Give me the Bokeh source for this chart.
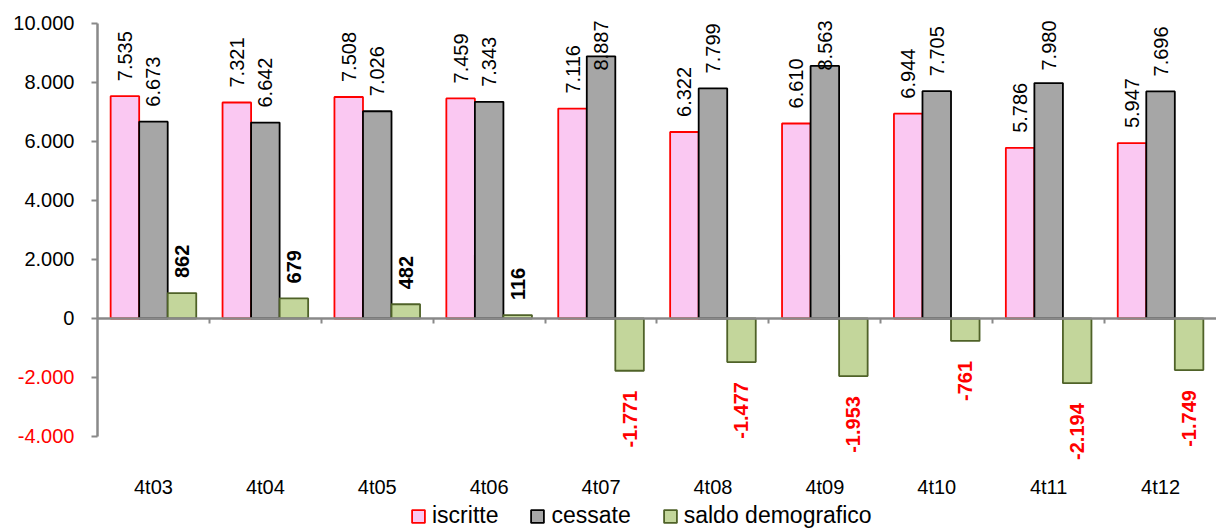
import numpy as np
from bokeh.plotting import figure
from bokeh.models import (ColumnDataSource, FixedTicker, LinearAxis,
                          Legend, LegendItem, Range1d)
from bokeh.transform import dodge
from bokeh.core.properties import value
from bokeh.embed import file_html
from bokeh.resources import INLINE

# ---------------- data ----------------
categories = ["4t03", "4t04", "4t05", "4t06", "4t07", "4t08", "4t09", "4t10", "4t11", "4t12"]
iscritte = [7535, 7321, 7508, 7459, 7116, 6322, 6610, 6944, 5786, 5947]
cessate = [6673, 6642, 7026, 7343, 8887, 7799, 8563, 7705, 7980, 7696]
saldo = [862, 679, 482, 116, -1771, -1477, -1953, -761, -2194, -1749]
y_ticks = [-4000, -2000, 0, 2000, 4000, 6000, 8000, 10000]
series_names = ["iscritte", "cessate", "saldo demografico"]


def fmt(v):
    return f"{v:,}".replace(",", ".")


FONT = "Liberation Sans"
FS = "20px"
BW = 0.255
AXIS_GRAY = "#898989"
X_LEFT = -0.8668          # room left of the value axis (inside the frame)
CAT_LABEL_LEVEL = -5150   # where the category label row hangs

n = len(categories)
centers = [i + 0.5 for i in range(n)]

p = figure(width=1216, height=529,
           x_range=Range1d(X_LEFT, n), y_range=Range1d(-7153, 10271),
           output_backend="svg", toolbar_location=None,
           x_axis_type=None, y_axis_type=None,
           min_border_left=0, min_border_right=0,
           min_border_top=15, min_border_bottom=0)
p.outline_line_color = None
p.background_fill_color = "white"
p.border_fill_color = "white"

src = ColumnDataSource(dict(x=centers, isc=iscritte, ces=cessate, sal=saldo))

r_isc = p.vbar(x=dodge("x", -BW), top="isc", width=BW, source=src,
               fill_color="#FAC8F2", line_color="#FF0000", line_width=1.8)
r_ces = p.vbar(x="x", top="ces", width=BW, source=src,
               fill_color="#A6A6A6", line_color="#000000", line_width=1.8)
r_sal = p.vbar(x=dodge("x", BW), top="sal", width=BW, source=src,
               fill_color="#C3D69B", line_color="#4F6228", line_width=1.8)

# ---------------- value labels ----------------
nx, ny, nt, cx, ct = [], [], [], [], []
for off, vals in ((-BW, iscritte), (0.0, cessate)):
    for xi, v in zip(centers, vals):
        if v + 2200 > y_ticks[-1]:
            cx.append(xi + off)
            ct.append(fmt(v))
        else:
            nx.append(xi + off)
            ny.append(v)
            nt.append(fmt(v))

p.text(x=nx, y=ny, text=nt, angle=np.pi / 2, text_align="left",
       text_baseline="middle", y_offset=-15,
       text_font=value(FONT), text_font_size=FS, text_color="#000000")
p.text(x=cx, y=[y_ticks[-1]] * len(cx), text=ct, angle=np.pi / 2,
       text_align="right", text_baseline="middle", y_offset=-3,
       text_font=value(FONT), text_font_size=FS, text_color="#000000")

px_, py_, pt_, mx_, my_, mt_ = [], [], [], [], [], []
for xi, v in zip(centers, saldo):
    if v >= 0:
        px_.append(xi + BW); py_.append(v); pt_.append(fmt(v))
    else:
        mx_.append(xi + BW); my_.append(v); mt_.append(fmt(v))

p.text(x=px_, y=py_, text=pt_, angle=np.pi / 2, text_align="left",
       text_baseline="middle", y_offset=-15, text_font_style="bold",
       text_font=value(FONT), text_font_size=FS, text_color="#000000")
p.text(x=mx_, y=my_, text=mt_, angle=np.pi / 2, text_align="right",
       text_baseline="middle", y_offset=20, text_font_style="bold",
       text_font=value(FONT), text_font_size=FS, text_color="#FF0000")

# ---------------- axes ----------------
neg_ticks = [t for t in y_ticks if t < 0]

yaxis = LinearAxis(fixed_location=0,
                   ticker=FixedTicker(ticks=y_ticks, minor_ticks=[]),
                   bounds=(y_ticks[0], y_ticks[-1]),
                   major_label_overrides={t: (fmt(t) if t >= 0 else "") for t in y_ticks},
                   axis_line_color=AXIS_GRAY, axis_line_width=2.5,
                   major_tick_line_color=AXIS_GRAY, major_tick_line_width=2,
                   major_tick_in=0, major_tick_out=6,
                   minor_tick_line_color=None,
                   major_label_standoff=17,
                   major_label_text_font=FONT, major_label_text_font_size=FS,
                   major_label_text_color="#000000")
p.add_layout(yaxis, "left")

yaxis_neg = LinearAxis(fixed_location=0,
                       ticker=FixedTicker(ticks=neg_ticks, minor_ticks=[]),
                       major_label_overrides={t: fmt(t) for t in neg_ticks},
                       axis_line_color=None, major_tick_line_color=None,
                       minor_tick_line_color=None,
                       major_tick_in=0, major_tick_out=6,
                       major_label_standoff=17,
                       major_label_text_font=FONT, major_label_text_font_size=FS,
                       major_label_text_color="#FF0000")
p.add_layout(yaxis_neg, "left")

bound_ticks = list(range(1, n))
zero_axis = LinearAxis(fixed_location=0,
                       ticker=FixedTicker(ticks=bound_ticks, minor_ticks=[]),
                       bounds=(0, n),
                       major_label_overrides={t: "" for t in bound_ticks},
                       axis_line_color=AXIS_GRAY, axis_line_width=2.5,
                       major_tick_line_color=AXIS_GRAY, major_tick_line_width=2,
                       major_tick_in=0, major_tick_out=5,
                       minor_tick_line_color=None)
p.add_layout(zero_axis, "below")

cat_axis = LinearAxis(fixed_location=CAT_LABEL_LEVEL,
                      ticker=FixedTicker(ticks=centers, minor_ticks=[]),
                      major_label_overrides={c: lab for c, lab in zip(centers, categories)},
                      axis_line_color=None, major_tick_line_color=None,
                      minor_tick_line_color=None,
                      major_tick_in=0, major_tick_out=0,
                      major_label_standoff=6,
                      major_label_text_font=FONT, major_label_text_font_size=FS,
                      major_label_text_color="#000000")
p.add_layout(cat_axis, "below")

legend = Legend(items=[LegendItem(label=series_names[0], renderers=[r_isc]),
                       LegendItem(label=series_names[1], renderers=[r_ces]),
                       LegendItem(label=series_names[2], renderers=[r_sal])],
                orientation="horizontal", location=(410, 0),
                glyph_width=16, glyph_height=16,
                label_text_font=FONT, label_text_font_size="23px",
                label_text_color="#000000",
                label_standoff=6, spacing=31, padding=0, margin=0,
                border_line_color=None, background_fill_alpha=0)
p.add_layout(legend, "center")

open("out.html", "w").write(file_html(p, INLINE))
